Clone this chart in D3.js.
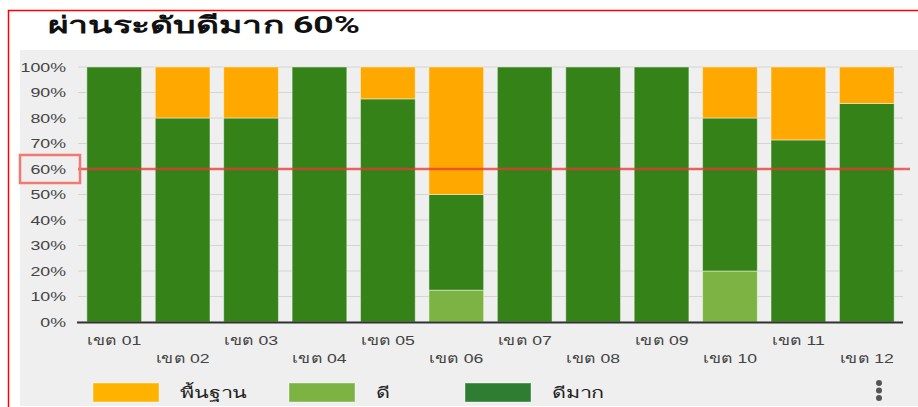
<!DOCTYPE html>
<html>
<head>
<meta charset="utf-8">
<script src="https://cdn.jsdelivr.net/npm/d3@7"></script>
<style>
  html, body { margin: 0; padding: 0; background: #fff; }
  svg { display: block; font-family: Roboto, "Noto Sans", "DejaVu Sans", sans-serif; }
</style>
</head>
<body>
<svg id="chart" width="918" height="407"></svg>
<script>
const titleText = "ผ่านระดับดีมาก 60%";
const categories = ["เขต 01","เขต 02","เขต 03","เขต 04","เขต 05","เขต 06","เขต 07","เขต 08","เขต 09","เขต 10","เขต 11","เขต 12"];
const seriesNames = ["ดี", "ดีมาก", "พื้นฐาน"];
const good      = [0, 0, 0, 0, 0, 12.5, 0, 0, 0, 20, 0, 0];
const veryGood  = [100, 80, 80, 100, 87.5, 37.5, 100, 100, 100, 60, 71.4, 85.7];
const basic     = [0, 20, 20, 0, 12.5, 50, 0, 0, 0, 20, 28.6, 14.3];
const yTicks = [0,10,20,30,40,50,60,70,80,90,100];
const threshold = 60;
const legendOrder = ["พื้นฐาน", "ดี", "ดีมาก"];

const barColors = {"พื้นฐาน": "#ffa800", "ดี": "#7cb342", "ดีมาก": "#358219"};
const legendColors = {"พื้นฐาน": "#ffb300", "ดี": "#7cb342", "ดีมาก": "#2e7d32"};

const rows = categories.map((c, i) => ({cat: c, "ดี": good[i], "ดีมาก": veryGood[i], "พื้นฐาน": basic[i]}));
const stacked = d3.stack().keys(seriesNames)(rows);

const svg = d3.select("#chart");

// frame & background
svg.append("rect").attr("x", 20).attr("y", 50).attr("width", 898).attr("height", 356).attr("fill", "#efefef");
svg.append("rect").attr("x", 8.5).attr("y", 10.5).attr("width", 930).attr("height", 420)
  .attr("fill", "none").attr("stroke", "#ff0000").attr("stroke-width", 1.5);

svg.append("text").attr("x", 48).attr("y", 33).text(titleText)
  .attr("font-size", 23).attr("font-weight", "bold").attr("fill", "#111")
  .attr("textLength", 312).attr("lengthAdjust", "spacingAndGlyphs");

const x = d3.scaleBand().domain(categories).range([80, 901]).paddingInner(0.2).paddingOuter(0.1);
const y = d3.scaleLinear().domain([0, 100]).range([322, 67]);

// stretch helper: scale text horizontally around its anchor so a sample hits a target width
function stretch(sel, target) {
  const w = sel.node().getComputedTextLength();
  const k = w > 0 ? target / w : 1;
  sel.attr("transform", function() {
    const prev = d3.select(this).attr("data-pre") || "";
    return prev + ` scale(${k},1)`;
  });
}

// gridlines
svg.append("g").selectAll("line").data(yTicks).join("line")
  .attr("x1", 78).attr("x2", 903)
  .attr("y1", d => y(d)).attr("y2", d => y(d))
  .attr("stroke", "#d4d4d4").attr("stroke-width", 1);

// y labels
const yAxis = d3.axisLeft(y).tickValues(yTicks).tickFormat(d => d + "%").tickSize(0).tickPadding(0);
const gy = svg.append("g").attr("transform", "translate(66,0)").call(yAxis);
gy.select(".domain").remove();
const yText = gy.selectAll("text").attr("font-size", 13).attr("fill", "#444").attr("font-family", null);
{
  const top = yText.filter(d => d === 100);
  const w = top.node().getComputedTextLength();
  const k = 45.5 / w;
  yText.attr("transform", `scale(${k},1)`);
}

// bars
svg.append("g").selectAll("g").data(stacked).join("g")
  .attr("fill", d => barColors[d.key])
  .selectAll("rect").data(d => d.filter(s => s[1] - s[0] > 0)).join("rect")
  .attr("x", d => x(d.data.cat))
  .attr("width", x.bandwidth())
  .attr("y", d => y(d[1]))
  .attr("height", d => y(d[0]) - y(d[1]))
  .attr("stroke", "rgba(255,255,255,0.45)").attr("stroke-width", 1);

// baseline
svg.append("line").attr("x1", 77).attr("x2", 903).attr("y1", y(0) + 0.5).attr("y2", y(0) + 0.5)
  .attr("stroke", "#333").attr("stroke-width", 2);

// x labels staggered
const xAxis = d3.axisBottom(x).tickSize(0).tickPadding(0);
const gx = svg.append("g").attr("transform", "translate(0,322)").call(xAxis);
gx.select(".domain").remove();
const xText = gx.selectAll("text").attr("font-size", 13).attr("fill", "#444").attr("font-family", null)
  .attr("dy", null)
  .attr("y", (d, i) => i % 2 === 0 ? 23 : 41);
{
  const w = xText.node().getComputedTextLength();
  const k = 53 / w;
  xText.attr("transform", `scale(${k},1)`);
}

// threshold line
svg.append("line").attr("x1", 78).attr("x2", 910).attr("y1", y(threshold)).attr("y2", y(threshold))
  .attr("stroke", "#e53935").attr("stroke-opacity", 0.75).attr("stroke-width", 2.5);

// highlight box around 60% label
svg.append("rect").attr("x", 20).attr("y", y(threshold) - 14).attr("width", 60).attr("height", 28)
  .attr("fill", "none").attr("stroke", "#f07a72").attr("stroke-width", 2.5);

// legend
const legendX = [93, 289, 465];
const lg = svg.append("g").selectAll("g").data(legendOrder).join("g")
  .attr("transform", (d, i) => `translate(${legendX[i]},383)`);
lg.append("rect").attr("width", 66).attr("height", 19).attr("fill", d => legendColors[d])
  .attr("stroke", "rgba(255,255,255,0.4)").attr("stroke-width", 1);
const lt = lg.append("text").text(d => d)
  .attr("font-size", 15).attr("fill", "#222");
{
  const w = lt.filter(d => d === "พื้นฐาน").node().getComputedTextLength();
  const k = 66 / w;
  lt.attr("transform", `translate(87,15) scale(${k},1)`);
}

// menu dots
svg.append("g").selectAll("circle").data([0, 1, 2]).join("circle")
  .attr("cx", 879).attr("cy", d => 383 + d * 7.5).attr("r", 3).attr("fill", "#555");
</script>
</body>
</html>
